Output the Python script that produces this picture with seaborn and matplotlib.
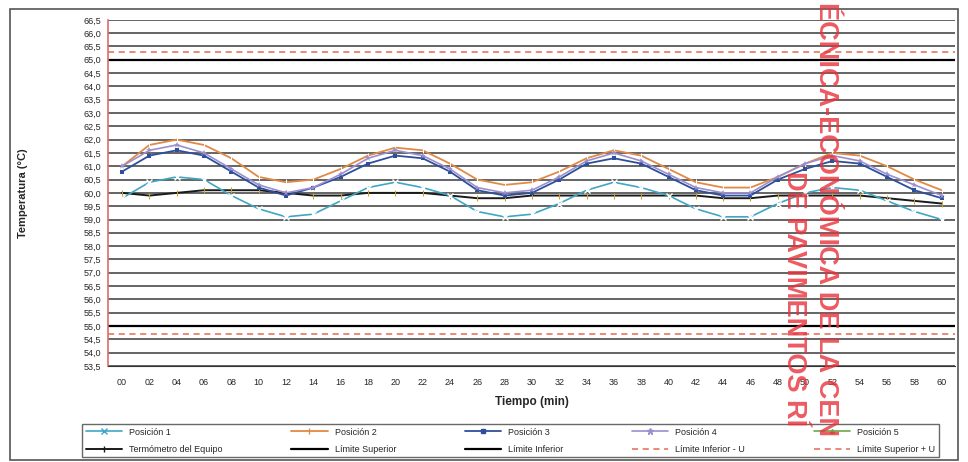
import numpy as np
import pandas as pd
import matplotlib.pyplot as plt
import seaborn as sns
from matplotlib.patches import Rectangle
from matplotlib.lines import Line2D

# -------------------------
# Data
# -------------------------
tiempo = list(range(0, 61, 2))
tick_labels = [f"{t:02d}" for t in tiempo]

posicion_1 = [59.8, 60.4, 60.6, 60.5, 59.9, 59.4, 59.1, 59.2, 59.7, 60.2, 60.4,
              60.2, 59.9, 59.3, 59.1, 59.2, 59.6, 60.1, 60.4, 60.2, 59.9, 59.4,
              59.1, 59.1, 59.6, 60.0, 60.2, 60.1, 59.7, 59.3, 59.0]
posicion_2 = [61.0, 61.8, 62.0, 61.8, 61.3, 60.6, 60.4, 60.5, 60.9, 61.4, 61.7,
              61.6, 61.1, 60.5, 60.3, 60.4, 60.8, 61.3, 61.6, 61.4, 60.9, 60.4,
              60.2, 60.2, 60.6, 61.1, 61.5, 61.4, 61.0, 60.5, 60.1]
posicion_3 = [60.8, 61.4, 61.6, 61.4, 60.8, 60.2, 59.9, 60.2, 60.6, 61.1, 61.4,
              61.3, 60.8, 60.1, 59.9, 60.0, 60.5, 61.1, 61.3, 61.1, 60.6, 60.1,
              59.9, 59.9, 60.5, 60.9, 61.2, 61.1, 60.6, 60.1, 59.8]
posicion_4 = [61.0, 61.6, 61.8, 61.5, 60.9, 60.3, 60.0, 60.2, 60.7, 61.3, 61.6,
              61.4, 60.9, 60.2, 60.0, 60.1, 60.6, 61.2, 61.5, 61.2, 60.7, 60.2,
              60.0, 60.0, 60.6, 61.1, 61.4, 61.2, 60.7, 60.3, 59.9]
termometro = [60.0, 59.9, 60.0, 60.1, 60.1, 60.1, 60.0, 59.9, 59.9, 60.0, 60.0,
              60.0, 59.9, 59.8, 59.8, 59.9, 59.9, 59.9, 59.9, 59.9, 59.9, 59.9,
              59.8, 59.8, 59.9, 59.9, 59.9, 59.9, 59.8, 59.7, 59.6]

lim_superior = 65.0
lim_inferior = 55.0
incertidumbre = 0.3

y_ticks = np.arange(53.5, 66.51, 0.5)

# -------------------------
# Style
# -------------------------
sns.set_style("white")
plt.rcParams['font.family'] = ['Liberation Sans', 'DejaVu Sans']

fig = plt.figure(figsize=(9.68, 4.62), dpi=100)
ax = fig.add_axes([0.112, 0.208, 0.875, 0.749])

df = pd.DataFrame({"t": tiempo, "p1": posicion_1, "p2": posicion_2,
                   "p3": posicion_3, "p4": posicion_4, "term": termometro})

# grid lines first
for y in y_ticks:
    ax.axhline(y, color="#3a3a3a", lw=1.1, zorder=0)

# limits
ax.axhline(lim_superior, color="black", lw=1.6, zorder=1)
ax.axhline(lim_inferior, color="black", lw=1.6, zorder=1)
ax.axhline(lim_superior + incertidumbre, color="#e66a50", lw=1.1, ls=(0, (4, 3)), zorder=1)
ax.axhline(lim_inferior - incertidumbre, color="#e66a50", lw=1.1, ls=(0, (4, 3)), zorder=1)

sns.lineplot(data=df, x="t", y="term", ax=ax, color="#1a1a1a", lw=1.4,
             marker="|", markersize=5, markeredgecolor="#c9a227", zorder=2)
sns.lineplot(data=df, x="t", y="p1", ax=ax, color="#3fa7c4", lw=1.2,
             marker="x", markersize=4, markeredgewidth=1, zorder=3)
sns.lineplot(data=df, x="t", y="p2", ax=ax, color="#e08a45", lw=1.3,
             marker="|", markersize=4, zorder=3)
sns.lineplot(data=df, x="t", y="p3", ax=ax, color="#2e4f9a", lw=1.3,
             marker="s", markersize=3.5, markeredgewidth=0, zorder=4)
sns.lineplot(data=df, x="t", y="p4", ax=ax, color="#9b8fd0", lw=1.2,
             marker="*", markersize=5, markeredgewidth=0, zorder=4)

ax.set_xlim(-1, 61)
ax.set_ylim(53.5, 66.5)
ax.set_xticks(tiempo)
ax.set_xticklabels(tick_labels, fontsize=6.5)
ax.set_yticks(y_ticks)
ax.set_yticklabels([f"{v:.1f}".replace(".", ",") for v in y_ticks], fontsize=6.5)
ax.tick_params(axis="both", length=3, width=0.8, direction="out", pad=2)
ax.tick_params(axis="x", pad=6)

ax.set_xlabel("Tiempo (min)", fontsize=8.5, fontweight="bold", labelpad=6)
ax.set_ylabel("Temperatura (°C)", fontsize=8, fontweight="bold", labelpad=40)

for side in ["top", "right"]:
    ax.spines[side].set_visible(False)
ax.spines["bottom"].set_color("#333333")
ax.spines["left"].set_color("#e06a6a")
ax.spines["left"].set_linewidth(1.2)

# -------------------------
# Legend (5 columns, 2 rows)
# -------------------------
handles = [
    Line2D([], [], color="#3fa7c4", lw=1.2, marker="x", markersize=4),
    Line2D([], [], color="#1a1a1a", lw=1.4, marker="|", markersize=5),
    Line2D([], [], color="#e08a45", lw=1.3, marker="|", markersize=4),
    Line2D([], [], color="black", lw=1.6),
    Line2D([], [], color="#2e4f9a", lw=1.3, marker="s", markersize=3.5),
    Line2D([], [], color="black", lw=1.6),
    Line2D([], [], color="#9b8fd0", lw=1.2, marker="*", markersize=5),
    Line2D([], [], color="#e66a50", lw=1.1, ls=(0, (4, 3))),
    Line2D([], [], color="#6aa84f", lw=1.2, marker="^", markersize=3),
    Line2D([], [], color="#e66a50", lw=1.1, ls=(0, (4, 3))),
]
labels = ["Posición 1", "Termómetro del Equipo", "Posición 2", "Límite Superior",
          "Posición 3", "Límite Inferior", "Posición 4", "Límite Inferior - U",
          "Posición 5", "Límite Superior + U"]
leg = fig.legend(handles, labels, loc="lower left", bbox_to_anchor=(0.085, 0.01, 0.885, 0.105),
                 mode="expand", ncol=5, fontsize=6.5, frameon=True, fancybox=False,
                 edgecolor="#444444", handlelength=4, borderaxespad=0, labelspacing=0.9)
leg.get_frame().set_linewidth(1.0)

# outer frame of the chart area
fig.patches.append(Rectangle((0.01, 0.005), 0.98, 0.975, transform=fig.transFigure,
                             fill=False, edgecolor="#555555", lw=1.2))

# red stamp over the chart
fig.text(0.853, 0.995, "ÉCNICA-ECONÓMICA DE LA CEN", rotation=-90, color="#e8323a",
         fontsize=19.5, fontweight="bold", ha="center", va="top", alpha=0.8, zorder=10)
fig.text(0.82, 0.63, "DE PAVIMENTOS RÍ", rotation=-90, color="#e8323a",
         fontsize=19.5, fontweight="bold", ha="center", va="top", alpha=0.8, zorder=10)

plt.savefig("out.png", dpi=100)
plt.close()
